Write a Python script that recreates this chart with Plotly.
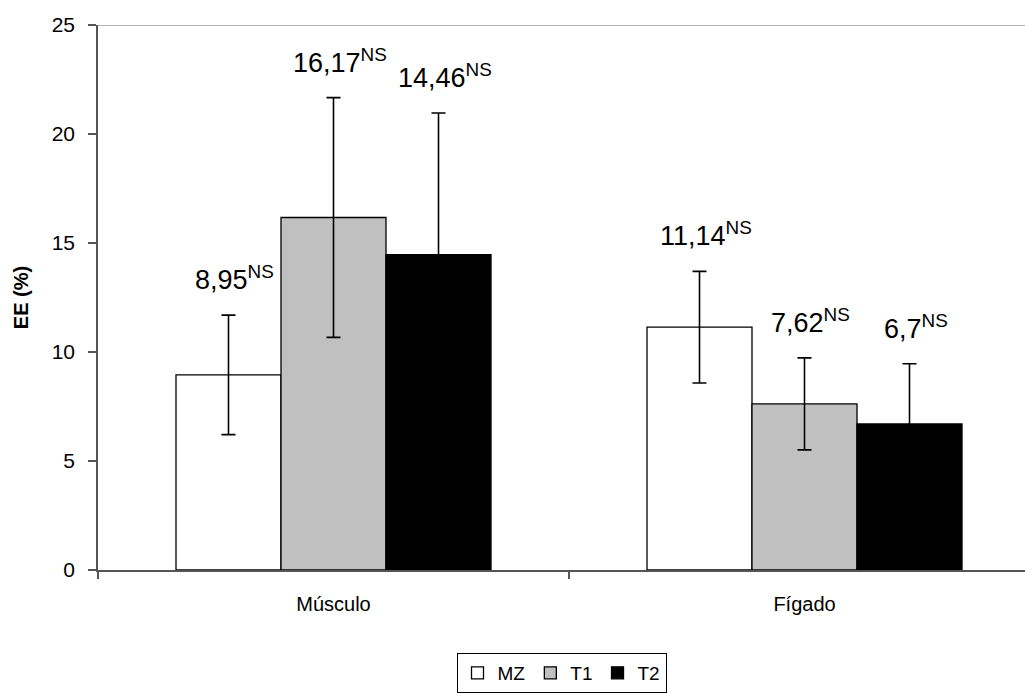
import plotly.graph_objects as go

categories = ["Músculo", "Fígado"]
series_names = ["MZ", "T1", "T2"]
values = {
    "MZ": [8.95, 11.14],
    "T1": [16.17, 7.62],
    "T2": [14.46, 6.70],
}
errors = {
    "MZ": [2.74, 2.56],
    "T1": [5.50, 2.11],
    "T2": [6.50, 2.76],
}
label_texts = {
    "MZ": ["8,95", "11,14"],
    "T1": ["16,17", "7,62"],
    "T2": ["14,46", "6,7"],
}
superscript = "NS"
y_ticks = [0, 5, 10, 15, 20, 25]

colors = {"MZ": "#FFFFFF", "T1": "#C0C0C0", "T2": "#000000"}
FONT = "Liberation Sans, Arial, sans-serif"

W, H = 1025, 693
ML, MT, MB = 98, 25, 122
cat_px = 471.0  # pixel width of one category
plot_w = W - ML
x_max = -0.5 + plot_w / cat_px
bar_w_frac = 105.0 / cat_px
bargap = 1 - 3 * bar_w_frac

fig = go.Figure()
for name in series_names:
    fig.add_trace(go.Bar(
        name=name,
        x=categories,
        y=values[name],
        marker=dict(color=colors[name], line=dict(color="#000000", width=1.3)),
        error_y=dict(type="data", array=errors[name], visible=True,
                     color="#000000", thickness=1.6, width=7),
    ))

annotations = []
for i, name in enumerate(series_names):
    for j, cat in enumerate(categories):
        annotations.append(dict(
            x=cat, y=values[name][j] + errors[name][j],
            xref="x", yref="y",
            text=f"{label_texts[name][j]}<sup>{superscript}</sup>",
            showarrow=False, xanchor="center", yanchor="bottom",
            xshift=(i - 1) * 105 + 6, yshift=18,
            font=dict(family=FONT, size=27, color="#000000"),
        ))

fig.update_layout(
    width=W, height=H,
    margin=dict(l=ML, r=0, t=MT, b=MB, pad=0),
    paper_bgcolor="white", plot_bgcolor="white",
    barmode="group", bargap=bargap, bargroupgap=0,
    font=dict(family=FONT, color="#000000"),
    showlegend=True,
    legend=dict(
        orientation="h", x=0.5, xanchor="center",
        y=-(654 - (H - MB)) / (H - MT - MB), yanchor="top",
        bordercolor="#000000", borderwidth=1,
        font=dict(family=FONT, size=19, color="#000000"),
        itemwidth=30, tracegroupgap=0,
    ),
    annotations=annotations,
    xaxis=dict(
        type="category", range=[-0.5, x_max],
        showline=True, linecolor="#555555", linewidth=1.5,
        mirror=False, showgrid=False, zeroline=False,
        ticks="outside", tickson="boundaries", ticklen=7,
        tickcolor="#555555", tickwidth=1.5,
        tickfont=dict(family=FONT, size=20, color="#000000"),
        ticklabelstandoff=15,
    ),
    yaxis=dict(
        range=[0, 25], tickvals=y_ticks,
        showline=True, linecolor="#555555", linewidth=1.5,
        showgrid=False, zeroline=False,
        ticks="outside", ticklen=8, tickcolor="#555555", tickwidth=1.5,
        tickfont=dict(family=FONT, size=21, color="#000000"),
        ticklabelstandoff=9,
        title=dict(text="<b>EE (%)</b>", standoff=18,
                   font=dict(family=FONT, size=20, color="#000000")),
    ),
    shapes=[dict(type="line", xref="paper", yref="y", x0=0, x1=1, y0=25, y1=25,
                 line=dict(color="#999999", width=1.5))],
)

fig.write_html("out.html")
